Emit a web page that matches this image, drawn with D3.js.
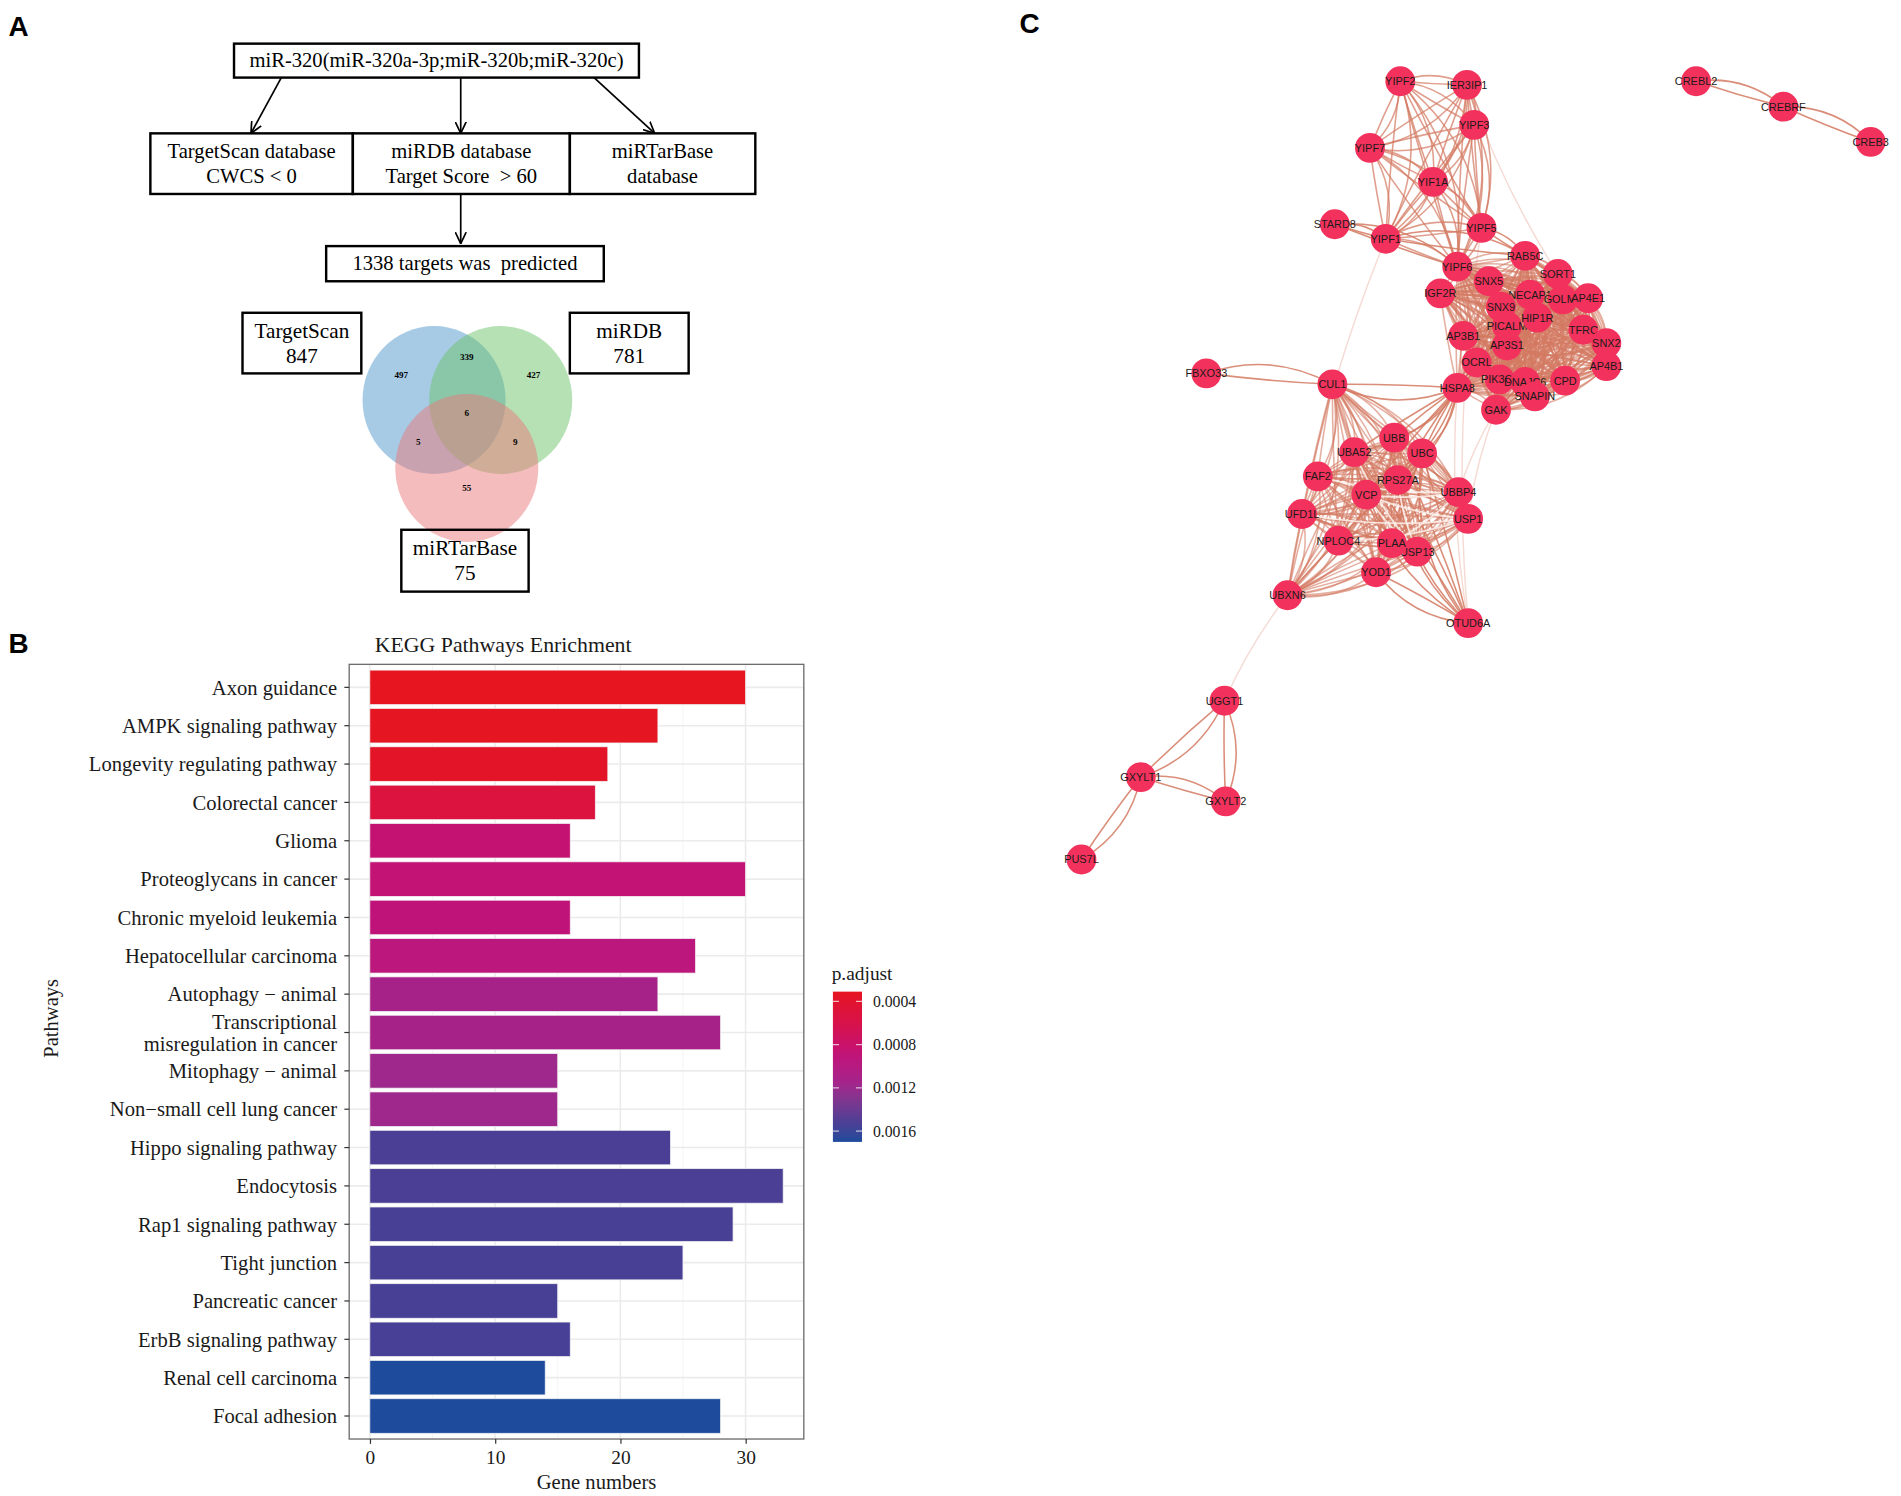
<!DOCTYPE html>
<html>
<head>
<meta charset="utf-8">
<script src="https://cdn.jsdelivr.net/npm/d3@7"></script>
<style>
body { margin: 0; background: #fff; }
</style>
</head>
<body>
<script>
// page is 1901 x 1496, everything is laid out in a 1568 x 1234 user space
var W = 1901, H = 1496, VW = 1568, VH = 1234;

// ---------- panel A : flowchart + venn
var vennSets = ["TargetScan", "miRDB", "miRTarBase"];
var vennTotals = [847, 781, 75];
// regions: TS only, TS&DB, DB only, all, TS&MTB, DB&MTB, MTB only
var vennRegions = [497, 339, 427, 6, 5, 9, 55];

// ---------- panel B : KEGG barplot
var pathways = ["Axon guidance", "AMPK signaling pathway", "Longevity regulating pathway",
  "Colorectal cancer", "Glioma", "Proteoglycans in cancer", "Chronic myeloid leukemia",
  "Hepatocellular carcinoma", "Autophagy \u2212 animal", "Transcriptional\nmisregulation in cancer",
  "Mitophagy \u2212 animal", "Non\u2212small cell lung cancer", "Hippo signaling pathway",
  "Endocytosis", "Rap1 signaling pathway", "Tight junction", "Pancreatic cancer",
  "ErbB signaling pathway", "Renal cell carcinoma", "Focal adhesion"];
var geneCounts = [30, 23, 19, 18, 16, 30, 16, 26, 23, 28, 15, 15, 24, 33, 29, 25, 15, 16, 14, 28];
var pAdjust = [0.00031, 0.00033, 0.00036, 0.00052, 0.00085, 0.00087, 0.0009, 0.00095, 0.00112, 0.00113,
  0.00118, 0.00118, 0.00152, 0.00152, 0.00153, 0.00153, 0.00153, 0.00154, 0.0017, 0.0017];
var xTicks = [0, 10, 20, 30];
var legendTicks = [0.0004, 0.0008, 0.0012, 0.0016];

// ---------- panel C : PPI network (layout coordinates)
var nodes = [
  ["YIPF2", 1155, 67], ["IER3IP1", 1210, 70], ["YIPF3", 1216, 103], ["YIPF7", 1130, 122],
  ["YIF1A", 1182, 150], ["STARD8", 1101, 185], ["YIPF1", 1143, 197], ["YIPF5", 1222, 188],
  ["YIPF6", 1202, 220], ["RAB5C", 1258, 211], ["SORT1", 1285, 226], ["SNX5", 1228, 232],
  ["IGF2R", 1188, 242], ["NECAP1", 1262, 243], ["GOLM1", 1289, 247], ["AP4E1", 1310, 246],
  ["SNX9", 1238, 253], ["PICALM", 1243, 269], ["HIP1R", 1268, 262], ["TFRC", 1306, 272],
  ["SNX2", 1325, 283], ["AP3B1", 1207, 277], ["AP3S1", 1243, 285], ["AP4B1", 1325, 302],
  ["OCRL", 1218, 299], ["PIK3C3", 1237, 313], ["DNAJC6", 1258, 315], ["CPD", 1291, 314],
  ["HSPA8", 1202, 320], ["SNAPIN", 1266, 327], ["GAK", 1234, 338],
  ["FBXO33", 995, 308], ["CUL1", 1099, 317], ["UBB", 1150, 361], ["UBA52", 1117, 373],
  ["UBC", 1173, 374], ["FAF2", 1087, 393], ["RPS27A", 1153, 396], ["VCP", 1127, 408],
  ["UBBP4", 1203, 406], ["USP1", 1211, 428], ["UFD1L", 1074, 424], ["NPLOC4", 1104, 446],
  ["USP13", 1169, 455], ["PLAA", 1148, 448], ["YOD1", 1135, 472], ["UBXN6", 1062, 491],
  ["OTUD6A", 1211, 514], ["UGGT1", 1010, 578], ["GXYLT1", 941, 641], ["GXYLT2", 1011, 661],
  ["PUS7L", 892, 709], ["CREBL2", 1399, 67], ["CREBRF", 1471, 88], ["CREB3", 1543, 117]
];
// densely connected modules (every member linked to every other)
var yipfModule = ["YIPF2", "IER3IP1", "YIPF3", "YIPF7", "YIF1A", "YIPF1", "YIPF5", "YIPF6"];
var endoModule = ["YIPF6", "RAB5C", "SORT1", "SNX5", "IGF2R", "NECAP1", "GOLM1", "AP4E1", "SNX9",
  "PICALM", "HIP1R", "TFRC", "SNX2", "AP3B1", "AP3S1", "AP4B1", "OCRL", "PIK3C3", "DNAJC6", "CPD",
  "HSPA8", "SNAPIN", "GAK"];
var ubiModule = ["CUL1", "UBB", "UBA52", "UBC", "FAF2", "RPS27A", "VCP", "UBBP4", "USP1", "UFD1L",
  "NPLOC4", "USP13", "PLAA", "YOD1", "UBXN6"];
var extraEdges = [["STARD8", "YIPF1"], ["FBXO33", "CUL1"], ["HSPA8", "UBB"],
  ["HSPA8", "UBC"], ["HSPA8", "RPS27A"], ["HSPA8", "UBA52"], ["HSPA8", "CUL1"], ["HSPA8", "VCP"],
  ["OTUD6A", "YOD1"], ["OTUD6A", "UBB"], ["OTUD6A", "UBC"], ["OTUD6A", "RPS27A"], ["OTUD6A", "UBA52"],
  ["UGGT1", "GXYLT1"], ["UGGT1", "GXYLT2"], ["GXYLT1", "GXYLT2"], ["GXYLT1", "PUS7L"],
  ["CREBL2", "CREBRF"], ["CREBRF", "CREB3"], ["YIPF1", "RAB5C"], ["YIPF5", "RAB5C"], ["STARD8", "YIPF6"]];
// weak evidence links (pale)
var faintEdges = [["UBXN6", "UGGT1"], ["YIPF1", "UBXN6"], ["YIPF5", "OTUD6A"], ["GAK", "USP1"],
  ["IER3IP1", "SORT1"], ["HSPA8", "OTUD6A"], ["GAK", "UBBP4"]];
var paleEdges = [["VCP", "USP1"], ["RPS27A", "USP13"], ["VCP", "UBBP4"], ["PLAA", "UBBP4"],
  ["NPLOC4", "USP1"], ["UBA52", "USP13"], ["FAF2", "UBBP4"], ["UFD1L", "USP1"], ["VCP", "USP13"]];

var svg = d3.select("body").append("svg")
  .attr("width", W).attr("height", H)
  .attr("viewBox", "0 0 " + VW + " " + VH)
  .style("font-family", "'Liberation Serif', 'Times New Roman', serif");

// panel letters
svg.selectAll("text.letter")
  .data([["A", 7, 30], ["B", 7, 539], ["C", 841, 27]])
  .enter().append("text")
  .attr("x", d => d[1]).attr("y", d => d[2])
  .style("font-family", "'Liberation Sans', Arial, sans-serif")
  .style("font-weight", "bold").style("font-size", "23px")
  .text(d => d[0]);

// ======================= PANEL A
var gA = svg.append("g");
svg.append("defs").append("marker")
  .attr("id", "arr").attr("viewBox", "0 0 10 10")
  .attr("refX", 9.5).attr("refY", 5)
  .attr("markerWidth", 10).attr("markerHeight", 10)
  .attr("markerUnits", "userSpaceOnUse")
  .attr("orient", "auto")
  .append("path").attr("d", "M0,0.5 L9.5,5 L0,9.5")
  .attr("fill", "none").attr("stroke", "#000").attr("stroke-width", 1.4);

function box(x, y, w, h, lines, fs) {
  gA.append("rect").attr("x", x).attr("y", y).attr("width", w).attr("height", h)
    .attr("fill", "none").attr("stroke", "#000").attr("stroke-width", 2);
  var t = gA.append("text").attr("text-anchor", "middle").style("font-size", fs + "px");
  var lh = fs * 1.18;
  var y0 = y + h / 2 - (lines.length - 1) * lh / 2 + fs * 0.33;
  lines.forEach((l, i) => t.append("tspan").attr("x", x + w / 2).attr("y", y0 + i * lh)
    .attr("xml:space", "preserve").text(l));
}
function arrow(x1, y1, x2, y2) {
  gA.append("line").attr("x1", x1).attr("y1", y1).attr("x2", x2).attr("y2", y2)
    .attr("stroke", "#000").attr("stroke-width", 1.4).attr("marker-end", "url(#arr)");
}

box(193, 36, 334, 28, ["miR-320(miR-320a-3p;miR-320b;miR-320c)"], 17);
arrow(232, 64, 207, 110);
arrow(380, 64, 380, 110);
arrow(490, 64, 540, 110);
box(124, 110, 167, 50, ["TargetScan database", "CWCS < 0"], 17);
box(291, 110, 179, 50, ["miRDB database", "Target Score  > 60"], 17);
box(470, 110, 153, 50, ["miRTarBase", "database"], 17);
arrow(380, 160, 380, 201);
box(269, 203, 229, 29, ["1338 targets was  predicted"], 17);

// venn
var vennCircles = [
  { cx: 358, cy: 330, fill: "#4f95cc" },
  { cx: 413, cy: 330, fill: "#6cc46c" },
  { cx: 385, cy: 386, fill: "#ea7a7a" }
];
gA.selectAll("ellipse").data(vennCircles).enter().append("ellipse")
  .attr("cx", d => d.cx).attr("cy", d => d.cy).attr("rx", 59).attr("ry", 61)
  .attr("fill", d => d.fill).attr("fill-opacity", 0.5);
var regionPos = [[331, 312], [385, 297], [440, 312], [385, 343], [345, 367], [425, 367], [385, 405]];
gA.selectAll("text.vn").data(vennRegions).enter().append("text")
  .attr("x", (d, i) => regionPos[i][0]).attr("y", (d, i) => regionPos[i][1])
  .attr("text-anchor", "middle").style("font-size", "7.5px").style("font-weight", "bold")
  .text(d => d);
box(200, 258, 98, 50, [vennSets[0], vennTotals[0]], 17.5);
box(470, 258, 98, 50, [vennSets[1], vennTotals[1]], 17.5);
box(331, 437, 105, 51, [vennSets[2], vennTotals[2]], 17.5);

// ======================= PANEL B
var gB = svg.append("g");
var px0 = 288, px1 = 663, py0 = 548, py1 = 1187;
var x = d3.scaleLinear().domain([-1.65, 34.65]).range([px0, px1]);
var y = d3.scaleBand().domain(pathways).range([py0, py1]).paddingInner(0.1).paddingOuter(0.15);
var colorScale = d3.scaleLinear()
  .domain([0.0003, 0.0006, 0.0009, 0.00115, 0.00152, 0.0017])
  .range(["#e6151d", "#d8124a", "#c0137a", "#a4238a", "#4a3f95", "#1e4b9c"])
  .interpolate(d3.interpolateLab);

// grid
gB.append("rect").attr("x", px0).attr("y", py0).attr("width", px1 - px0).attr("height", py1 - py0)
  .attr("fill", "#fff");
gB.selectAll("line.minor").data([5, 15, 25]).enter().append("line")
  .attr("x1", d => x(d)).attr("x2", d => x(d)).attr("y1", py0).attr("y2", py1)
  .attr("stroke", "#f4f4f4").attr("stroke-width", 0.8);
gB.selectAll("line.vmaj").data(xTicks).enter().append("line")
  .attr("x1", d => x(d)).attr("x2", d => x(d)).attr("y1", py0).attr("y2", py1)
  .attr("stroke", "#ebebeb").attr("stroke-width", 1.3);
gB.selectAll("line.hmaj").data(pathways).enter().append("line")
  .attr("x1", px0).attr("x2", px1)
  .attr("y1", d => y(d) + y.bandwidth() / 2).attr("y2", d => y(d) + y.bandwidth() / 2)
  .attr("stroke", "#ebebeb").attr("stroke-width", 1.3);

// bars
gB.selectAll("rect.bar").data(pathways).enter().append("rect")
  .attr("x", x(0)).attr("y", d => y(d))
  .attr("width", (d, i) => x(geneCounts[i]) - x(0)).attr("height", y.bandwidth())
  .attr("fill", (d, i) => colorScale(pAdjust[i]))
  .attr("stroke", "#f2f2f2").attr("stroke-width", 0.6);

gB.append("rect").attr("x", px0).attr("y", py0).attr("width", px1 - px0).attr("height", py1 - py0)
  .attr("fill", "none").attr("stroke", "#6d6d6d").attr("stroke-width", 1.1);

// axes
var xAxis = gB.append("g").attr("transform", "translate(0," + py1 + ")")
  .call(d3.axisBottom(x).tickValues(xTicks).tickSize(4).tickPadding(5));
xAxis.select(".domain").remove();
xAxis.selectAll("line").attr("stroke", "#333");
xAxis.selectAll("text").style("font-family", "'Liberation Serif', serif").style("font-size", "16px")
  .attr("fill", "#1a1a1a");

var yAxis = gB.append("g").attr("transform", "translate(" + px0 + ",0)")
  .call(d3.axisLeft(y).tickSize(4).tickPadding(6).tickFormat(""));
yAxis.select(".domain").remove();
yAxis.selectAll("line").attr("stroke", "#333");
gB.selectAll("text.ylab").data(pathways).enter().append("text")
  .attr("text-anchor", "end").style("font-size", "17px").attr("fill", "#1a1a1a")
  .each(function (d) {
    var lines = d.split("\n");
    var cy = y(d) + y.bandwidth() / 2;
    var t = d3.select(this);
    lines.forEach((l, i) => t.append("tspan").attr("x", px0 - 10)
      .attr("y", cy + 6 + (i - (lines.length - 1) / 2) * 18).text(l));
  });

gB.append("text").attr("x", 415).attr("y", 538).attr("text-anchor", "middle")
  .style("font-size", "18px").attr("fill", "#1a1a1a").text("KEGG Pathways Enrichment");
gB.append("text").attr("x", 492).attr("y", 1228).attr("text-anchor", "middle")
  .style("font-size", "17px").attr("fill", "#1a1a1a").text("Gene numbers");
gB.append("text").attr("transform", "translate(48,840) rotate(-90)").attr("text-anchor", "middle")
  .style("font-size", "17px").attr("fill", "#1a1a1a").text("Pathways");

// colourbar legend
var ly = d3.scaleLinear().domain([0.0004, 0.0016]).range([826, 933]);
var lgMin = 0.00031, lgMax = 0.0017;
var grad = svg.select("defs").append("linearGradient").attr("id", "pgrad")
  .attr("x1", 0).attr("x2", 0).attr("y1", 0).attr("y2", 1);
d3.range(0, 1.0001, 0.05).forEach(t => grad.append("stop")
  .attr("offset", t).attr("stop-color", colorScale(lgMin + t * (lgMax - lgMin))));
gB.append("text").attr("x", 686).attr("y", 808).style("font-size", "16px").attr("fill", "#1a1a1a")
  .text("p.adjust");
gB.append("rect").attr("x", 687).attr("y", ly(lgMin)).attr("width", 24)
  .attr("height", ly(lgMax) - ly(lgMin)).attr("fill", "url(#pgrad)");
legendTicks.forEach(v => {
  gB.append("line").attr("x1", 687).attr("x2", 692).attr("y1", ly(v)).attr("y2", ly(v))
    .attr("stroke", "#fff").attr("stroke-opacity", 0.7);
  gB.append("line").attr("x1", 706).attr("x2", 711).attr("y1", ly(v)).attr("y2", ly(v))
    .attr("stroke", "#fff").attr("stroke-opacity", 0.7);
  gB.append("text").attr("x", 720).attr("y", ly(v) + 4.5).style("font-size", "13px")
    .attr("fill", "#1a1a1a").text(v.toFixed(4));
});

// ======================= PANEL C
var gC = svg.append("g");
var nx = d3.scaleLinear().domain([0, 1]).range([0, 1]);
var ny = d3.scaleLinear().domain([0, 1]).range([0, 1]);
var byName = {};
nodes.forEach(n => byName[n[0]] = { name: n[0], x: nx(n[1]), y: ny(n[2]) });

function pairs(list) {
  var out = [];
  for (var i = 0; i < list.length; i++)
    for (var j = i + 1; j < list.length; j++) out.push([list[i], list[j]]);
  return out;
}
function arcPath(s, t, k) {
  var mx = (s.x + t.x) / 2, my = (s.y + t.y) / 2, dx = t.x - s.x, dy = t.y - s.y;
  return "M" + s.x + "," + s.y + "Q" + (mx - dy * k) + "," + (my + dx * k) + " " + t.x + "," + t.y;
}
var edgeSets = [
  { list: pairs(yipfModule), op: 0.72 },
  { list: pairs(endoModule), op: 0.6 },
  { list: pairs(ubiModule), op: 0.6 },
  { list: extraEdges, op: 0.85 }
];
var gEdges = gC.append("g").attr("fill", "none").attr("stroke-linecap", "round");
gEdges.selectAll("path.faint").data(faintEdges).enter().append("path")
  .attr("d", d => arcPath(byName[d[0]], byName[d[1]], 0.06))
  .attr("stroke", "#eec3b7").attr("stroke-width", 1.2).attr("stroke-opacity", 0.6);
edgeSets.forEach(es => {
  gEdges.selectAll(null).data(es.list).enter().append("path")
    .attr("d", d => arcPath(byName[d[0]], byName[d[1]], 0.02))
    .attr("stroke", "#d47a62").attr("stroke-width", 1.3).attr("stroke-opacity", es.op);
  gEdges.selectAll(null).data(es.list).enter().append("path")
    .attr("d", d => arcPath(byName[d[0]], byName[d[1]], -0.22))
    .attr("stroke", "#d47a62").attr("stroke-width", 1.3).attr("stroke-opacity", es.op);
});
gEdges.selectAll("path.pale").data(paleEdges).enter().append("path")
  .attr("d", d => arcPath(byName[d[0]], byName[d[1]], 0.08))
  .attr("stroke", "#fbece6").attr("stroke-width", 1.4).attr("stroke-opacity", 0.9);

var gn = gC.selectAll("g.node").data(nodes.map(n => byName[n[0]])).enter().append("g")
  .attr("transform", d => "translate(" + d.x + "," + d.y + ")");
gn.append("circle").attr("r", 12.3).attr("fill", "#f2325c");
gn.append("text").attr("text-anchor", "middle").attr("dy", "0.36em")
  .style("font-family", "'Liberation Sans', Arial, sans-serif").style("font-size", "9px")
  .attr("fill", "#1a1a1a").text(d => d.name);
</script>
</body>
</html>
